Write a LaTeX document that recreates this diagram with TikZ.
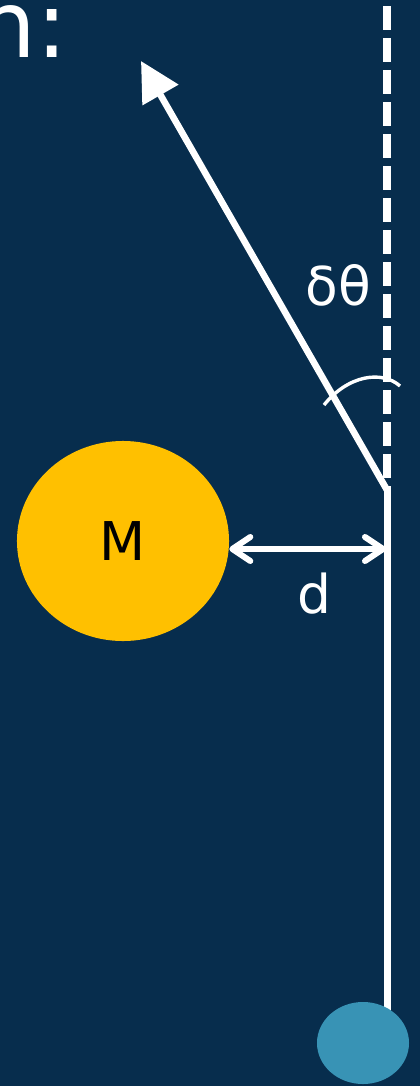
\documentclass[tikz,border=0pt]{standalone}
\usepackage{fontspec}
\setmainfont{DejaVu Sans}
\usepackage{tikz}
\usetikzlibrary{arrows.meta,shapes.geometric}
\definecolor{bgnavy}{RGB}{7,45,77}
\definecolor{sunyellow}{RGB}{255,192,0}
\definecolor{bobblue}{RGB}{56,147,181}

\begin{document}
\begin{tikzpicture}[x=0.025cm,y=-0.025cm,
    bigtext/.style={text=white,font=\fontsize{38}{46}\selectfont,inner sep=0}]
        \fill[bgnavy] (0,0) rectangle (420,1086);
        \useasboundingbox (0,0) rectangle (420,1086);
        \clip (0,0) rectangle (420,1086);

        \node (Title)[anchor=base east,inner sep=0,text=white,font=\fontsize{66}{78}\selectfont] at (68,57) {n:};

        \coordinate (Top) at (387,6);
        \coordinate (Pivot) at (387,490);
        \coordinate (Tip) at (141,61);
        \coordinate (Wall) at (386,549);
        \coordinate (BobTop) at (387,1030);

        % vertical reference and string
        \draw [white,line width=0.2cm,dash pattern=on 0.6cm off 0.2cm] (Top) -- (Pivot);
        \draw [white,line width=0.175cm] (Pivot) -- (BobTop);
        \node (Bob)[ellipse,fill=bobblue,minimum width=2.3cm,minimum height=2.05cm] at (363,1043) {};

        % deflected direction
        \draw [white,line width=0.165cm,-{Triangle[length=0.98cm,width=1cm]}] (Pivot) -- (Tip);
        \draw [white,line width=0.085cm] (324,405) .. controls (348,375) and (382,370) .. (400,386);
        \node (Angle)[bigtext] at (338,285) {δθ};

        \node (Mass)[ellipse,fill=sunyellow,minimum width=5.3cm,minimum height=5cm,font=\fontsize{38}{46}\selectfont] at (123,541) {M};
        \draw [white,line width=0.15cm,line cap=round,{Straight Barb[length=0.45cm,width=0.6cm,round]}-{Straight Barb[length=0.45cm,width=0.6cm,round]}] (Wall -| Mass.east) -- (Wall);
        \node (Dist)[bigtext] at (314,594) {d};
    \end{tikzpicture}
\end{document}
